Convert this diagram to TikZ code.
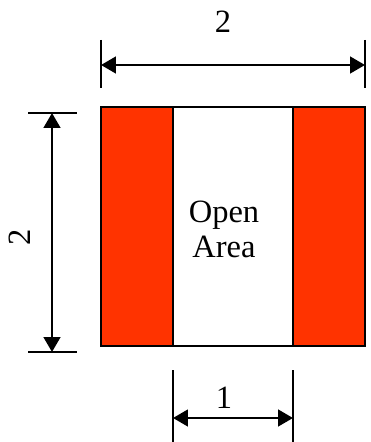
\documentclass[tikz,border=0pt]{standalone}
\usepackage{fontspec}
\setmainfont{Liberation Serif}
\usetikzlibrary{arrows.meta}
\definecolor{stripred}{RGB}{255,51,0}

\begin{document}
\begin{tikzpicture}[x=0.02cm, y=-0.02cm, line cap=butt, line join=miter,
  dimline/.style={line width=1.3pt,
    {Triangle[length=8.5pt,width=9.5pt]}-{Triangle[length=8.5pt,width=9.5pt]}},
  tickline/.style={line width=1.3pt},
  strip/.style={fill=stripred, draw=black, line width=1.1pt},
  lbl/.style={font=\fontsize{18.5}{20}\selectfont, inner sep=0pt}]
\useasboundingbox (0,0) rectangle (370,442);

% plate with two red strips and the open area between them
\draw[line width=1.1pt] (101,107) rectangle (365,346);
\draw[strip] (101,107) rectangle (173,346);
\draw[strip] (293,107) rectangle (365,346);
\node[lbl, align=center] (open) at (224,229) {Open\\Area};

% width of the plate
\coordinate (tla) at (101,40);  \coordinate (tlb) at (101,88);
\coordinate (tra) at (365,40);  \coordinate (trb) at (365,88);
\coordinate (tl) at (101,65);   \coordinate (tr) at (365,65);
\draw[tickline] (tla) -- (tlb);
\draw[tickline] (tra) -- (trb);
\draw[dimline] (tl) -- (tr);
\node[lbl] (wlbl) at (223,22) {2};

% height of the plate
\coordinate (lta) at (28,113);  \coordinate (ltb) at (77,113);
\coordinate (lba) at (28,352);  \coordinate (lbb) at (77,352);
\coordinate (lt) at (52,113);   \coordinate (lb) at (52,352);
\draw[tickline] (lta) -- (ltb);
\draw[tickline] (lba) -- (lbb);
\draw[dimline] (lt) -- (lb);
\node[lbl, rotate=90] (hlbl) at (20,237) {2};

% width of the open area
\coordinate (bla) at (173,370); \coordinate (blb) at (173,442);
\coordinate (bra) at (293,370); \coordinate (brb) at (293,442);
\coordinate (bl) at (173,418);  \coordinate (br) at (293,418);
\draw[tickline] (bla) -- (blb);
\draw[tickline] (bra) -- (brb);
\draw[dimline] (bl) -- (br);
\node[lbl] (olbl) at (224,398) {1};

\end{tikzpicture}
\end{document}
